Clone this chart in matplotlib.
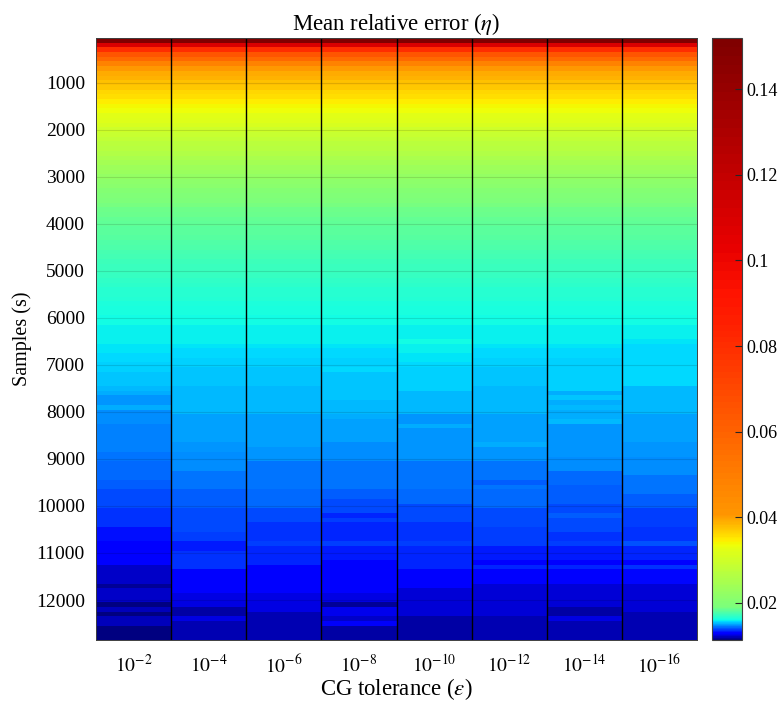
import numpy as np
import matplotlib
matplotlib.use('Agg')
import matplotlib.pyplot as plt
from matplotlib.colors import ListedColormap, Normalize

plt.rcParams['font.family'] = ['Liberation Serif', 'DejaVu Serif']
plt.rcParams['mathtext.fontset'] = 'stix'

# rows: number of samples, columns: CG tolerance
samples = list(range(100, 12801, 100))
tol_labels = ['$10^{-2}$', '$10^{-4}$', '$10^{-6}$', '$10^{-8}$',
              '$10^{-10}$', '$10^{-12}$', '$10^{-14}$', '$10^{-16}$']

# mean relative error, samples 100..6400 (same for every tolerance)
eta_top = [0.1520, 0.1090, 0.0797, 0.0654, 0.0583, 0.0476, 0.0405, 0.0392,
           0.0386, 0.0376, 0.0370, 0.0363, 0.0357, 0.0347, 0.0341, 0.0335,
           0.0325, 0.0320, 0.0309, 0.0298, 0.0288, 0.0282, 0.0274, 0.0267,
           0.0259, 0.0252, 0.0244, 0.0236, 0.0229, 0.0222, 0.0216, 0.0209,
           0.0203, 0.0196, 0.0190, 0.01886, 0.01871, 0.01857, 0.01842, 0.01828,
           0.01816, 0.01804, 0.01792, 0.01780, 0.01768, 0.01756, 0.01744, 0.01732,
           0.01720, 0.01708, 0.01697, 0.01686, 0.01676, 0.01665, 0.01654, 0.01643,
           0.01632, 0.01622, 0.01611, 0.01600, 0.01598, 0.01596, 0.01594, 0.01592]

# samples 6500..12800, one list per tolerance
eta_1e2 = [0.01591, 0.01581, 0.01572, 0.01563, 0.01557, 0.01547, 0.01544, 0.01538,
           0.01535, 0.01529, 0.01519, 0.01513, 0.01476, 0.01476, 0.01513, 0.01461,
           0.01461, 0.01460, 0.01457, 0.01457, 0.01454, 0.01454, 0.01451, 0.01451,
           0.01445, 0.01445, 0.01420, 0.01420, 0.01420, 0.01420, 0.01417, 0.01417,
           0.01383, 0.01383, 0.01383, 0.01383, 0.01352, 0.01352, 0.01352, 0.01352,
           0.01321, 0.01321, 0.01321, 0.01290, 0.01290, 0.01290, 0.01290, 0.01290,
           0.01226, 0.01226, 0.01226, 0.01226, 0.01168, 0.01220, 0.01220, 0.01220,
           0.01130, 0.01210, 0.01130, 0.01200, 0.01200, 0.01130, 0.01130, 0.01130]
eta_1e4 = [0.01585, 0.01578, 0.01569, 0.01560, 0.01554, 0.01547, 0.01538, 0.01538,
           0.01538, 0.01538, 0.01523, 0.01523, 0.01523, 0.01523, 0.01523, 0.01523,
           0.01492, 0.01492, 0.01492, 0.01492, 0.01492, 0.01492, 0.01476, 0.01476,
           0.01461, 0.01461, 0.01461, 0.01461, 0.01436, 0.01436, 0.01436, 0.01436,
           0.01414, 0.01414, 0.01414, 0.01414, 0.01389, 0.01389, 0.01389, 0.01389,
           0.01389, 0.01374, 0.01374, 0.01330, 0.01330, 0.01352, 0.01352, 0.01352,
           0.01352, 0.01290, 0.01290, 0.01290, 0.01290, 0.01290, 0.01242, 0.01242,
           0.01242, 0.01178, 0.01178, 0.01242, 0.01194, 0.01194, 0.01194, 0.01194]
eta_1e6 = [0.01585, 0.01578, 0.01569, 0.01560, 0.01554, 0.01547, 0.01538, 0.01538,
           0.01538, 0.01538, 0.01523, 0.01523, 0.01523, 0.01523, 0.01523, 0.01523,
           0.01488, 0.01488, 0.01488, 0.01488, 0.01488, 0.01488, 0.01492, 0.01476,
           0.01476, 0.01476, 0.01439, 0.01439, 0.01439, 0.01439, 0.01439, 0.01439,
           0.01420, 0.01420, 0.01420, 0.01420, 0.01389, 0.01389, 0.01389, 0.01352,
           0.01352, 0.01352, 0.01352, 0.01368, 0.01337, 0.01337, 0.01337, 0.01337,
           0.01290, 0.01290, 0.01290, 0.01290, 0.01290, 0.01290, 0.01242, 0.01242,
           0.01242, 0.01242, 0.01188, 0.01188, 0.01188, 0.01188, 0.01188, 0.01188]
eta_1e8 = [0.01585, 0.01578, 0.01569, 0.01560, 0.01554, 0.01547, 0.01569, 0.01538,
           0.01538, 0.01535, 0.01532, 0.01532, 0.01529, 0.01526, 0.01523, 0.01519,
           0.01501, 0.01492, 0.01492, 0.01492, 0.01492, 0.01492, 0.01461, 0.01461,
           0.01461, 0.01461, 0.01436, 0.01436, 0.01436, 0.01436, 0.01436, 0.01436,
           0.01414, 0.01414, 0.01383, 0.01383, 0.01383, 0.01337, 0.01368, 0.01346,
           0.01346, 0.01346, 0.01346, 0.01368, 0.01327, 0.01327, 0.01327, 0.01290,
           0.01290, 0.01290, 0.01290, 0.01290, 0.01290, 0.01290, 0.01242, 0.01242,
           0.01162, 0.01258, 0.01258, 0.01220, 0.01274, 0.01178, 0.01178, 0.01178]
eta_1e10 = [0.01600, 0.01594, 0.01585, 0.01578, 0.01572, 0.01569, 0.01544, 0.01544,
            0.01544, 0.01544, 0.01544, 0.01523, 0.01523, 0.01523, 0.01523, 0.01523,
            0.01482, 0.01482, 0.01507, 0.01482, 0.01482, 0.01482, 0.01476, 0.01476,
            0.01476, 0.01476, 0.01445, 0.01445, 0.01445, 0.01445, 0.01445, 0.01445,
            0.01430, 0.01430, 0.01430, 0.01383, 0.01383, 0.01383, 0.01383, 0.01352,
            0.01352, 0.01352, 0.01352, 0.01368, 0.01337, 0.01337, 0.01337, 0.01337,
            0.01337, 0.01290, 0.01290, 0.01290, 0.01290, 0.01232, 0.01232, 0.01232,
            0.01232, 0.01232, 0.01232, 0.01178, 0.01178, 0.01178, 0.01178, 0.01178]
eta_1e12 = [0.01585, 0.01578, 0.01569, 0.01560, 0.01554, 0.01547, 0.01538, 0.01538,
            0.01538, 0.01538, 0.01523, 0.01523, 0.01523, 0.01523, 0.01523, 0.01523,
            0.01492, 0.01492, 0.01492, 0.01492, 0.01492, 0.01492, 0.01501, 0.01476,
            0.01476, 0.01476, 0.01445, 0.01445, 0.01445, 0.01445, 0.01414, 0.01445,
            0.01420, 0.01420, 0.01420, 0.01420, 0.01383, 0.01383, 0.01383, 0.01383,
            0.01368, 0.01368, 0.01368, 0.01377, 0.01330, 0.01330, 0.01330, 0.01290,
            0.01337, 0.01290, 0.01290, 0.01290, 0.01232, 0.01232, 0.01232, 0.01232,
            0.01232, 0.01232, 0.01232, 0.01188, 0.01188, 0.01188, 0.01188, 0.01188]
eta_1e14 = [0.01585, 0.01578, 0.01569, 0.01560, 0.01554, 0.01547, 0.01544, 0.01544,
            0.01544, 0.01544, 0.01544, 0.01513, 0.01538, 0.01513, 0.01520, 0.01501,
            0.01501, 0.01523, 0.01482, 0.01482, 0.01482, 0.01482, 0.01476, 0.01476,
            0.01476, 0.01461, 0.01461, 0.01461, 0.01430, 0.01430, 0.01430, 0.01408,
            0.01408, 0.01408, 0.01408, 0.01383, 0.01383, 0.01414, 0.01383, 0.01383,
            0.01383, 0.01358, 0.01358, 0.01368, 0.01330, 0.01330, 0.01330, 0.01290,
            0.01337, 0.01290, 0.01290, 0.01290, 0.01232, 0.01232, 0.01232, 0.01232,
            0.01232, 0.01178, 0.01178, 0.01252, 0.01194, 0.01194, 0.01194, 0.01194]
eta_1e16 = [0.01575, 0.01563, 0.01563, 0.01563, 0.01563, 0.01563, 0.01563, 0.01563,
            0.01563, 0.01563, 0.01523, 0.01523, 0.01523, 0.01523, 0.01523, 0.01523,
            0.01495, 0.01495, 0.01495, 0.01495, 0.01495, 0.01495, 0.01476, 0.01476,
            0.01476, 0.01461, 0.01461, 0.01461, 0.01461, 0.01436, 0.01436, 0.01436,
            0.01436, 0.01414, 0.01414, 0.01414, 0.01377, 0.01377, 0.01377, 0.01377,
            0.01358, 0.01358, 0.01358, 0.01399, 0.01337, 0.01337, 0.01337, 0.01290,
            0.01352, 0.01306, 0.01306, 0.01306, 0.01232, 0.01232, 0.01232, 0.01232,
            0.01232, 0.01232, 0.01188, 0.01188, 0.01188, 0.01188, 0.01188, 0.01188]

cols = [eta_1e2, eta_1e4, eta_1e6, eta_1e8, eta_1e10, eta_1e12, eta_1e14, eta_1e16]
eta = np.column_stack([eta_top + c for c in cols])

# jet stretched toward the low end (as in the original colour bar)
vmin, vmax = eta.min(), eta.max()
v_nodes = [vmin, 0.0129, 0.0160, 0.0190, 0.0325, 0.0405, 0.0850, vmax]
p_nodes = [0.0, 0.125, 0.375, 0.5, 0.625, 0.75, 0.875, 1.0]
vv = np.linspace(vmin, vmax, 1024)
cmap = ListedColormap(plt.get_cmap('jet')(np.interp(vv, v_nodes, p_nodes)))

fig = plt.figure(figsize=(7.83, 7.02), dpi=100)
ax = fig.add_axes([0.1226, 0.0883, 0.7676, 0.8577])

x_edges = np.arange(len(cols) + 1) + 0.5
y_edges = np.array([s - 50 for s in samples] + [samples[-1] + 50])
mesh = ax.pcolormesh(x_edges, y_edges, eta, cmap=cmap,
                     norm=Normalize(vmin=vmin, vmax=vmax), shading='flat')
ax.set_ylim(y_edges[-1], y_edges[0])
ax.set_xlim(x_edges[0], x_edges[-1])

yt = list(range(1000, 12001, 1000))
ax.set_yticks(yt)
ax.set_xticks(range(1, len(cols) + 1))
ax.set_xticklabels(tol_labels)
for t in yt:
    ax.axhline(t, color='k', alpha=0.12, lw=0.8)
for x in x_edges[1:-1]:
    ax.axvline(x, color='k', lw=1.0)

ax.tick_params(length=0, labelsize=14, pad=8)
ax.tick_params(axis='x', pad=10)
for s in ax.spines.values():
    s.set_color('#404040')
    s.set_linewidth(0.7)

ax.set_title(r'Mean relative error ($\eta$)', fontsize=16.4, pad=6)
ax.set_xlabel(r'CG tolerance ($\epsilon$)', fontsize=16.4, labelpad=0)
ax.set_ylabel('Samples (s)', fontsize=14.5, labelpad=3)

cax = fig.add_axes([0.9093, 0.0883, 0.0383, 0.8577])
cb = fig.colorbar(mesh, cax=cax)
cb.set_ticks([0.02, 0.04, 0.06, 0.08, 0.10, 0.12, 0.14])
cb.set_ticklabels(['0.02', '0.04', '0.06', '0.08', '0.1', '0.12', '0.14'])
cax.tick_params(direction='in', length=5, width=0.8, color='#262626', labelsize=13)
cb.outline.set_edgecolor('#404040')
cb.outline.set_linewidth(0.8)

fig.savefig('out.png', dpi=100)
